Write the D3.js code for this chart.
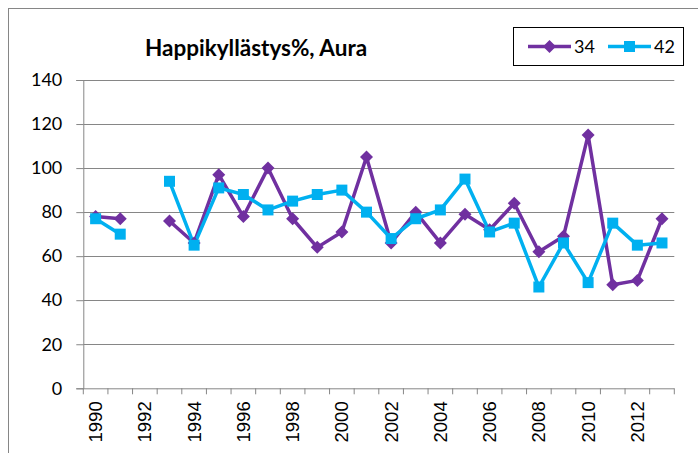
<!DOCTYPE html>
<html>
<head>
<meta charset="utf-8">
<script src="https://cdn.jsdelivr.net/npm/d3@7"></script>
<style>
  body { margin: 0; background: #fff; }
</style>
</head>
<body>
<div id="chart"></div>
<script>
const years = d3.range(1990, 2014);
const tickYears = [1990, 1992, 1994, 1996, 1998, 2000, 2002, 2004, 2006, 2008, 2010, 2012];
const yTicks = [0, 20, 40, 60, 80, 100, 120, 140];
const series34 = [78, 77, null, 76, 66, 97, 78, 100, 77, 64, 71, 105, 66, 80, 66, 79, 72, 84, 62, 69, 115, 47, 49, 77];
const series42 = [77, 70, null, 94, 65, 91, 88, 81, 85, 88, 90, 80, 68, 77, 81, 95, 71, 75, 46, 66, 48, 75, 65, 66];
const seriesNames = ['34', '42'];
const colors = ['#7030A0', '#00B0F0'];

const W = 698, H = 453;
const margin = { top: 80, right: 24, bottom: 65, left: 83.3 };
const width = 674.3 - margin.left;
const height = 388.3 - margin.top;
const labelFont = 'Lato, "Liberation Sans", sans-serif';

const svg = d3.select('#chart')
    .append('svg')
    .attr('width', W)
    .attr('height', H);

// outer chart border (runs off the right/bottom edge)
svg.append('rect')
    .attr('x', 8.5).attr('y', 8.5)
    .attr('width', W).attr('height', H)
    .attr('fill', 'none')
    .attr('stroke', '#868686')
    .attr('stroke-width', 1);

const g = svg.append('g')
    .attr('transform', `translate(${margin.left}, ${margin.top})`);

const xScale = d3.scaleBand().domain(years).range([0, width]);
const yScale = d3.scaleLinear().domain([0, 140]).range([height, 0]);

// gridlines
g.append('g')
    .selectAll('line')
    .data(yTicks.filter(d => d > 0))
    .enter()
    .append('line')
    .attr('x1', 0)
    .attr('x2', width)
    .attr('y1', d => Math.round(yScale(d)) + 0.5)
    .attr('y2', d => Math.round(yScale(d)) + 0.5)
    .attr('stroke', '#868686')
    .attr('stroke-width', 1);

// y axis
const yAxis = g.append('g')
    .call(d3.axisLeft(yScale).tickValues(yTicks).tickSize(7).tickPadding(14).tickFormat(d3.format('d')));
yAxis.selectAll('path, line').attr('stroke', '#868686');
yAxis.selectAll('text')
    .style('font-family', labelFont)
    .style('font-size', '18px')
    .attr('fill', '#000');

// x axis: ticks at category boundaries
const xAxis = g.append('g').attr('transform', `translate(0, ${height})`);
xAxis.append('line')
    .attr('x1', 0).attr('x2', width)
    .attr('y1', 0.5).attr('y2', 0.5)
    .attr('stroke', '#868686');
xAxis.selectAll('.tick')
    .data(years.concat([2014]))
    .enter()
    .append('line')
    .attr('x1', (d, i) => i === years.length ? width : xScale(d))
    .attr('x2', (d, i) => i === years.length ? width : xScale(d))
    .attr('y1', 0)
    .attr('y2', 6)
    .attr('stroke', '#868686');
xAxis.selectAll('.yearLabel')
    .data(tickYears)
    .enter()
    .append('text')
    .attr('transform', d => `translate(${xScale(d) + xScale.bandwidth() / 2 + 6.5}, 13) rotate(-90)`)
    .attr('text-anchor', 'end')
    .style('font-family', '"Liberation Sans", Arial, sans-serif')
    .style('font-size', '18.5px')
    .text(d => d);

// lines + markers
const allSeries = [series34, series42];
const line = d3.line()
    .defined(d => d !== null)
    .x((d, i) => xScale(years[i]) + xScale.bandwidth() / 2)
    .y(d => yScale(d));

allSeries.forEach((vals, s) => {
    g.append('path')
        .datum(vals)
        .attr('fill', 'none')
        .attr('stroke', colors[s])
        .attr('stroke-width', 3.5)
        .attr('stroke-linejoin', 'round')
        .attr('d', line);
});

// Excel-style diamond: a square turned 45 degrees
const diamondPath = 'M0,-6.5L6.5,0L0,6.5L-6.5,0Z';
const squarePath = 'M-5.5,-5.5H5.5V5.5H-5.5Z';

allSeries.forEach((vals, s) => {
    g.append('g')
        .selectAll('path')
        .data(vals.map((v, i) => ({ v: v, year: years[i] })).filter(d => d.v !== null))
        .enter()
        .append('path')
        .attr('d', s === 0 ? diamondPath : squarePath)
        .attr('transform', d => `translate(${xScale(d.year) + xScale.bandwidth() / 2}, ${yScale(d.v)})`)
        .attr('fill', colors[s]);
});

// title
svg.append('text')
    .attr('x', 256)
    .attr('y', 56)
    .attr('text-anchor', 'middle')
    .style('font-family', labelFont)
    .style('font-weight', 'bold')
    .style('font-size', '22.5px')
    .text('Happikyllästys%, Aura');

// legend
const legend = svg.append('g');
legend.append('rect')
    .attr('x', 513.5).attr('y', 27.5)
    .attr('width', 170).attr('height', 38)
    .attr('fill', '#fff')
    .attr('stroke', '#000')
    .attr('stroke-width', 1);
const legendX = [528, 608];
seriesNames.forEach((name, s) => {
    const lx = legendX[s];
    legend.append('line')
        .attr('x1', lx).attr('x2', lx + 43)
        .attr('y1', 46.5).attr('y2', 46.5)
        .attr('stroke', colors[s])
        .attr('stroke-width', 3.5);
    legend.append('path')
        .attr('d', s === 0 ? diamondPath : squarePath)
        .attr('transform', `translate(${lx + 21.5}, 46.5)`)
        .attr('fill', colors[s]);
    legend.append('text')
        .attr('x', lx + 46)
        .attr('y', 53)
        .style('font-family', labelFont)
        .style('font-size', '18px')
        .text(name);
});
</script>
</body>
</html>
